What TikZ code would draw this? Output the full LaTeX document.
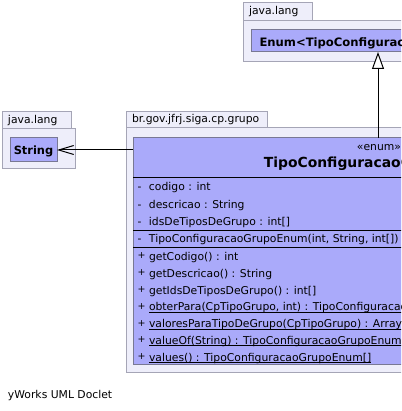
\documentclass[tikz,border=0pt]{standalone}
\usepackage{fontspec}
\setmainfont{DejaVu Sans}
\usetikzlibrary{arrows.meta}
\definecolor{pkgfill}{RGB}{238,238,250}
\definecolor{pkgline}{RGB}{165,165,182}
\definecolor{classfill}{RGB}{170,170,250}
\definecolor{classline}{RGB}{120,120,148}
\newcommand{\visib}[1]{\makebox[11.5pt][l]{#1}}
\newcommand{\plusvis}{\raisebox{1.5pt}{\fontsize{9.5}{9.5}\selectfont +}}
\newcommand{\ustatic}[1]{\setbox0\hbox{#1}\rlap{\rule[-2pt]{\wd0}{1pt}}\box0}
\tikzset{
    every node/.style={inner sep=0pt, outer sep=0pt,
    	font=\fontsize{10.8}{12}\selectfont},
    pkg/.style={draw=pkgline, fill=pkgfill, line width=1pt, anchor=north west},
    pkgtab/.style={pkg, align=left, inner xsep=6pt},
    classbox/.style={draw=classline, fill=classfill, line width=1pt},
    member/.style={anchor=base west},
    cname/.style={anchor=base, font=\bfseries\fontsize{#1}{14}\selectfont},
    sep/.style={line width=1pt},
    dep/.style={line width=1pt, -{Straight Barb[length=15pt, width=9pt, line width=1pt]}},
    gen/.style={line width=1pt, -{Triangle[open, length=17pt, width=12pt, fill=white]}}
}

\begin{document}
\begin{tikzpicture}[x=1pt, y=-1pt]
  \clip (0,0) rectangle (401,411);
  \fill [white] (0,0) rectangle (401,411);

  \node (lang_top) [pkg, minimum width=280, minimum height=41] at (243, 21) {};
  \node (lang_top_tab) [pkgtab, text width=57, minimum height=18] at (243, 3) {java.lang};
  \node (enum) [classbox, minimum width=254, minimum height=22] at (378, 41) {};
  \node (enum_name) [cname=11.6, anchor=base west] at (259.5, 46.5) {Enum<TipoConfiguracaoGrupoEnum>};

  \node (lang_left) [pkg, minimum width=73, minimum height=40] at (2, 129) {};
  \node (lang_left_tab) [pkgtab, text width=57, minimum height=17] at (2, 112) {java.lang};
  \node (string) [classbox, minimum width=47, minimum height=24] at (33.5, 150) {};
  \node (string_name) [cname=11.4] at (33.5, 154.5) {String};

  \node (grupo) [pkg, minimum width=500, minimum height=244] at (126, 128) {};
  \node (grupo_tab) [pkgtab, text width=129, minimum height=16] at (126, 112) {br.gov.jfrj.siga.cp.grupo};
  \node (tipo) [classbox, minimum width=490, minimum height=226] at (378, 251) {};
  \node (stereo) [anchor=base] at (379, 151) {«enum»};
  \node (title) [cname=13.9] at (378, 168) {TipoConfiguracaoGrupoEnum};

  \draw [sep] (tipo.west |- 0, 178) -- (tipo.east |- 0, 178);
  \draw [sep] (tipo.west |- 0, 230.5) -- (tipo.east |- 0, 230.5);
  \draw [sep] (tipo.west |- 0, 247) -- (tipo.east |- 0, 247);

  \node (codigo) [member] at (137.5, 191) {\visib{-}codigo : int};
  \node (descricao) [member] at (137.5, 208) {\visib{-}descricao : String};
  \node (ids) [member] at (137.5, 225) {\visib{-}idsDeTiposDeGrupo : int[]};
  \node (ctor) [member] at (137.5, 242) {\visib{-}TipoConfiguracaoGrupoEnum(int, String, int[])};
  \node (get_codigo) [member] at (137.5, 260) {\visib{\plusvis}getCodigo() : int};
  \node (get_descricao) [member] at (137.5, 277) {\visib{\plusvis}getDescricao() : String};
  \node (get_ids) [member] at (137.5, 294) {\visib{\plusvis}getIdsDeTiposDeGrupo() : int[]};
  \node (obter) [member] at (137.5, 310.5) {\visib{\plusvis}\ustatic{obterPara(CpTipoGrupo, int) : TipoConfiguracaoGrupoEnum}};
  \node (valores) [member] at (137.5, 327.5) {\visib{\plusvis}\ustatic{valoresParaTipoDeGrupo(CpTipoGrupo) : ArrayList<TipoConfiguracaoGrupoEnum>}};
  \node (value_of) [member] at (137.5, 344) {\visib{\plusvis}\ustatic{valueOf(String) : TipoConfiguracaoGrupoEnum}};
  \node (values) [member] at (137.5, 361) {\visib{\plusvis}\ustatic{values() : TipoConfiguracaoGrupoEnum[]}};

  \draw [gen] (tipo.north) -- (enum.south);
  \draw [dep] (tipo.west |- string.east) -- (string.east);

  \node (doclet) [anchor=base west] at (8, 398.5) {yWorks UML Doclet};
\end{tikzpicture}
\end{document}
